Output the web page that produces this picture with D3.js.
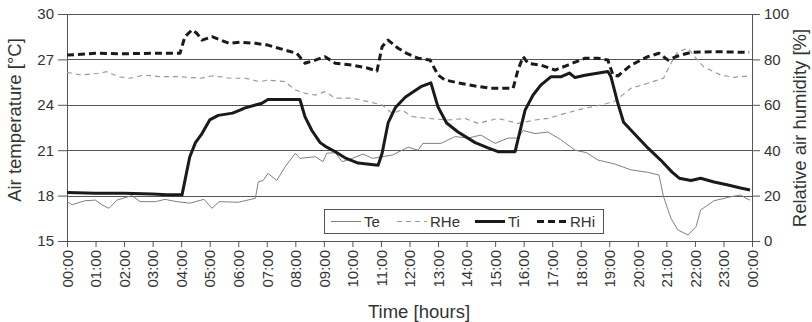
<!DOCTYPE html>
<html>
<head>
<meta charset="utf-8">
<script src="https://cdn.jsdelivr.net/npm/d3@7"></script>
<style>
  body { margin: 0; background: #fff; }
  svg { font-family: "Liberation Sans", Arial, sans-serif; }
</style>
</head>
<body>
<div id="chart"></div>
<script>
// readings: [hour, value]
const te = [[0,17.6],[0.18,17.4],[0.63,17.66],[1.0,17.7],[1.23,17.38],[1.47,17.16],[1.75,17.7],[2.28,18.0],[2.56,17.6],[3.1,17.6],[3.43,17.75],[3.85,17.6],[4.3,17.5],[4.8,17.75],[5.08,17.16],[5.33,17.6],[6.0,17.56],[6.6,17.82],[6.7,18.9],[6.87,19.0],[7.04,19.47],[7.35,19.0],[7.64,19.9],[8.0,20.8],[8.16,20.46],[8.7,20.57],[8.97,20.24],[9.1,20.8],[9.4,20.84],[9.64,20.24],[10,20.46],[10.37,20.75],[10.7,20.46],[11.04,20.57],[11.4,20.68],[11.95,21.2],[12.3,21.0],[12.47,21.45],[13.1,21.45],[13.6,21.9],[14.05,21.8],[14.5,22.0],[15.0,21.45],[15.45,21.8],[15.8,21.8],[15.98,22.3],[16.4,22.1],[16.85,22.2],[17.3,21.7],[17.8,21.0],[18.2,20.84],[18.6,20.35],[19.17,20.1],[19.76,19.7],[20.35,19.54],[20.74,19.36],[20.9,17.93],[21.16,16.5],[21.4,15.73],[21.76,15.4],[22.04,15.95],[22.2,17.05],[22.67,17.66],[23.27,17.93],[23.6,18.04],[23.79,17.82],[23.93,17.7]];

const ti = [[0,18.2],[1,18.15],[2,18.15],[3,18.1],[3.5,18.05],[4.03,18.05],[4.3,20.55],[4.5,21.5],[4.73,22.1],[5.0,23.0],[5.3,23.3],[5.8,23.45],[6.06,23.65],[6.24,23.8],[6.83,24.1],[7.04,24.35],[8.16,24.35],[8.34,23.2],[8.58,22.3],[8.87,21.5],[9.1,21.2],[9.4,20.9],[9.74,20.5],[10.2,20.15],[10.9,20.0],[11.04,20.8],[11.25,22.8],[11.5,23.8],[11.85,24.5],[12.12,24.85],[12.4,25.2],[12.75,25.45],[13.0,23.85],[13.3,22.8],[13.7,22.2],[14.3,21.5],[14.75,21.15],[15.1,20.9],[15.7,20.9],[15.8,21.7],[16.05,23.65],[16.33,24.65],[16.6,25.3],[16.95,25.85],[17.3,25.85],[17.6,26.1],[17.8,25.8],[18.15,25.95],[18.95,26.2],[19.06,25.85],[19.3,24.1],[19.5,22.85],[19.87,22.1],[20.35,21.15],[20.8,20.35],[21.2,19.55],[21.45,19.15],[21.86,19.0],[22.2,19.15],[22.67,18.9],[23.16,18.7],[23.6,18.5],[23.93,18.37]];

const rhe = [[0,74.3],[0.5,73.1],[1.1,73.9],[1.4,74.6],[1.8,72.4],[2.2,71.7],[2.7,73.1],[3.3,72.4],[3.9,72.4],[4.7,71.7],[5.1,72.8],[5.7,71.7],[6.24,71.7],[6.76,70.2],[7.04,70.9],[7.64,70.2],[8.0,66.5],[8.34,65.1],[8.7,64.3],[9.04,65.8],[9.4,62.9],[10,62.9],[10.55,61.4],[11.04,59.9],[11.4,56.2],[11.73,57.7],[12.1,54.8],[12.65,54.0],[13.35,53.3],[13.95,54.0],[14.4,51.8],[15.1,54.0],[15.8,51.8],[16.4,53.3],[16.85,54.0],[17.45,56.2],[18.15,58.5],[18.7,59.9],[19.17,61.4],[19.76,67.3],[20.35,69.5],[20.9,71.7],[21.16,78.3],[21.4,83.4],[21.76,84.9],[22.04,80.5],[22.3,76.8],[22.9,73.1],[23.37,72.1],[23.9,72.7]];

const rhi = [[0,81.9],[1,82.7],[2,82.5],[3,82.7],[3.96,82.7],[4.13,90],[4.38,93],[4.55,91.5],[4.73,88.5],[5.08,90],[5.67,87.1],[6.06,87.6],[6.6,87.1],[7.04,86.3],[7.64,84.1],[8.05,82.7],[8.34,78.3],[8.7,79.7],[9.04,81.2],[9.4,78.3],[10,77.5],[10.55,76.1],[10.86,74.9],[11.04,85.6],[11.25,88.5],[11.6,84.9],[11.9,82.7],[12.3,80.5],[12.72,79.7],[13,73.1],[13.25,70.9],[13.7,69.7],[14.3,68.3],[14.86,67.3],[15.63,67.3],[15.8,75.3],[15.98,81.2],[16.15,78.3],[16.6,77.5],[17.1,75.3],[17.55,77.5],[18.15,80.5],[18.6,80.5],[18.95,79.7],[19.13,73.1],[19.3,72.7],[19.76,77.5],[20.35,81.2],[20.74,82.7],[21.06,79.7],[21.4,81.5],[21.86,83.1],[22.67,83.4],[23.9,83.1]];

const hourTicks = d3.range(0, 25);
const tempTicks = [15, 18, 21, 24, 27, 30];
const rhTicks = [0, 20, 40, 60, 80, 100];
const legendNames = ['Te', 'RHe', 'Ti', 'RHi'];

const width = 812;
const height = 322;
const margin = { top: 14, right: 60, bottom: 81, left: 67 };
const plotWidth = width - margin.left - margin.right;
const plotHeight = height - margin.top - margin.bottom;

const svg = d3.select('#chart')
    .append('svg')
    .attr('width', width)
    .attr('height', height);

const plot = svg.append('g')
    .attr('transform', `translate(${margin.left},${margin.top})`);

const x = d3.scaleLinear().domain([0, 24]).range([0, plotWidth]);
const yT = d3.scaleLinear().domain([15, 30]).range([plotHeight, 0]);
const yRH = d3.scaleLinear().domain([0, 100]).range([plotHeight, 0]);

const axisColor = '#555';

// gridlines
plot.append('g')
    .selectAll('line')
    .data(tempTicks.slice(1))
    .join('line')
    .attr('x1', 0)
    .attr('x2', plotWidth)
    .attr('y1', d => Math.round(yT(d)) + 0.5)
    .attr('y2', d => Math.round(yT(d)) + 0.5)
    .attr('stroke', axisColor)
    .attr('stroke-width', 1);

// x axis
const fmtHour = h => String(h % 24).padStart(2, '0') + ':00';
const xAxisGroup = plot.append('g')
    .attr('transform', `translate(0,${plotHeight})`)
    .call(d3.axisBottom(x).tickValues(hourTicks).tickFormat(fmtHour).tickSize(6).tickSizeOuter(0));
xAxisGroup.selectAll('text')
    .attr('transform', 'rotate(-90)')
    .attr('x', -9)
    .attr('y', 0)
    .attr('dy', '0.35em')
    .style('text-anchor', 'end');

// y axes
const yAxisLeft = plot.append('g')
    .call(d3.axisLeft(yT).tickValues(tempTicks).tickSize(9).tickSizeOuter(0).tickPadding(4));
const yAxisRight = plot.append('g')
    .attr('transform', `translate(${plotWidth},0)`)
    .call(d3.axisRight(yRH).tickValues(rhTicks).tickSize(8).tickSizeOuter(0).tickPadding(4));

svg.selectAll('.domain, .tick line').attr('stroke', axisColor);
svg.selectAll('.tick text')
    .attr('fill', '#333')
    .style('font-size', '15px')
    .style('font-family', '"Liberation Sans", Arial, sans-serif');

// series
const lineT = d3.line().x(d => x(d[0])).y(d => yT(d[1]));
const lineRH = d3.line().x(d => x(d[0])).y(d => yRH(d[1]));

const styles = {
    Te: { stroke: '#808080', width: 1, dash: null },
    RHe: { stroke: '#999', width: 1.2, dash: '5,4' },
    Ti: { stroke: '#1a1a1a', width: 3, dash: null },
    RHi: { stroke: '#1a1a1a', width: 3, dash: '7,4' }
};

const series = [
    { name: 'Te', data: te, line: lineT },
    { name: 'RHe', data: rhe, line: lineRH },
    { name: 'RHi', data: rhi, line: lineRH },
    { name: 'Ti', data: ti, line: lineT }
];

plot.append('g')
    .selectAll('path')
    .data(series)
    .join('path')
    .attr('d', s => s.line(s.data))
    .attr('fill', 'none')
    .attr('stroke', s => styles[s.name].stroke)
    .attr('stroke-width', s => styles[s.name].width)
    .attr('stroke-dasharray', s => styles[s.name].dash)
    .attr('stroke-linejoin', 'round');

// legend
const legend = svg.append('g').attr('transform', 'translate(324,209)');
legend.append('rect')
    .attr('x', 0.5).attr('y', 0.5)
    .attr('width', 279).attr('height', 24)
    .attr('fill', '#fff')
    .attr('stroke', axisColor);

const legendX = [7, 73, 151, 213];
legendNames.forEach((name, i) => {
    const g = legend.append('g').attr('transform', `translate(${legendX[i]},12.5)`);
    g.append('line')
        .attr('x1', 0).attr('x2', 30)
        .attr('stroke', styles[name].stroke)
        .attr('stroke-width', styles[name].width)
        .attr('stroke-dasharray', styles[name].dash);
    g.append('text')
        .attr('x', 33)
        .attr('dy', '0.35em')
        .attr('fill', '#333')
        .style('font-size', '15px')
        .text(name);
});

// axis titles
svg.append('text')
    .attr('transform', 'translate(21,120) rotate(-90)')
    .attr('text-anchor', 'middle')
    .attr('fill', '#333')
    .style('font-size', '18.5px')
    .text('Air temperature [°C]');

svg.append('text')
    .attr('transform', 'translate(806,128) rotate(-90)')
    .attr('text-anchor', 'middle')
    .attr('fill', '#333')
    .style('font-size', '18.5px')
    .text('Relative air humidity [%]');

svg.append('text')
    .attr('x', 419)
    .attr('y', 318)
    .attr('text-anchor', 'middle')
    .attr('fill', '#333')
    .style('font-size', '18.5px')
    .text('Time [hours]');
</script>
</body>
</html>
